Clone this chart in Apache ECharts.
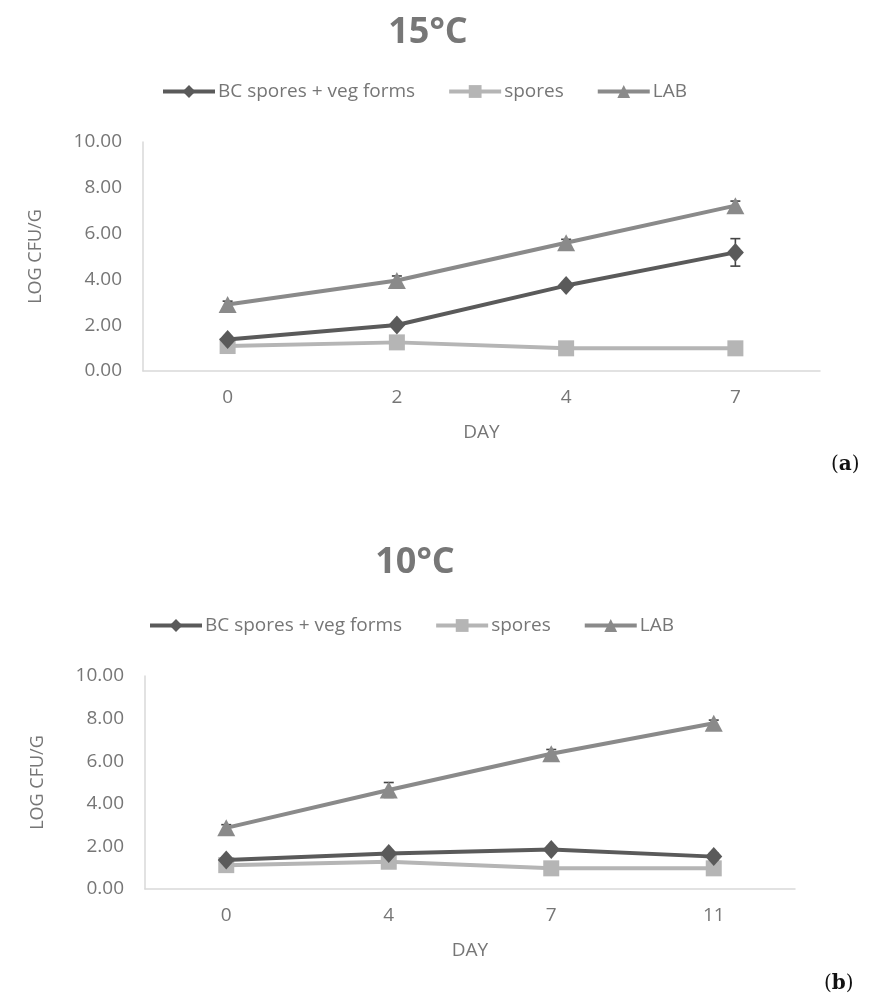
<!DOCTYPE html>
<html>
<head>
<meta charset="utf-8">
<script src="https://cdn.jsdelivr.net/npm/echarts@6/dist/echarts.min.js"></script>
<style>
html,body{margin:0;padding:0;background:#fff;}
#c{width:877px;height:1005px;}
</style>
</head>
<body>
<div id="c"></div>
<script>
// ---- Data (a) 15°C ----
const daysA = ['0', '2', '4', '7'];
const bcA = [1.38, 2.01, 3.73, 5.18];
const sporesA = [1.09, 1.25, 0.99, 0.99];
const labA = [2.90, 3.95, 5.60, 7.22];
const bcErrA = [0.08, 0.08, 0.08, 0.60];
const sporesErrA = [0, 0, 0, 0];
const labErrA = [0.15, 0.20, 0.15, 0.20];

// ---- Data (b) 10°C ----
const daysB = ['0', '4', '7', '11'];
const bcB = [1.36, 1.67, 1.86, 1.52];
const sporesB = [1.12, 1.28, 0.97, 0.97];
const labB = [2.87, 4.65, 6.35, 7.78];
const bcErrB = [0.08, 0.08, 0.08, 0.15];
const sporesErrB = [0, 0, 0, 0];
const labErrB = [0.15, 0.35, 0.20, 0.15];

const yTicks = [0, 2, 4, 6, 8, 10];
const seriesNames = ['BC spores + veg forms', 'spores', 'LAB'];

const FONT = '"Open Sans", sans-serif';
const TXT = '#767676';
const colors = ['#5a5a5a', '#b5b5b5', '#8a8a8a'];
const symbols = ['diamond', 'rect', 'triangle'];
const symSizes = [[17, 19], 16, [18, 17]];

function errRender(params, api) {
  const idx = api.value(0), v = api.value(1), e = api.value(2);
  if (!e) return null;
  const t = api.coord([idx, v + e]);
  const b = api.coord([idx, v - e]);
  const w = 5;
  const st = { stroke: '#444', lineWidth: 1.6 };
  return {
    type: 'group',
    children: [
      { type: 'line', shape: { x1: t[0], y1: t[1], x2: b[0], y2: b[1] }, style: st },
      { type: 'line', shape: { x1: t[0] - w, y1: t[1], x2: t[0] + w, y2: t[1] }, style: st },
      { type: 'line', shape: { x1: b[0] - w, y1: b[1], x2: b[0] + w, y2: b[1] }, style: st }
    ]
  };
}

function lineSeries(i, data, axisIdx) {
  return {
    name: seriesNames[i], type: 'line', data: data,
    xAxisIndex: axisIdx, yAxisIndex: axisIdx,
    symbol: symbols[i], symbolSize: symSizes[i],
    lineStyle: { color: colors[i], width: 4 },
    itemStyle: { color: colors[i] },
    z: 3 + (i === 1 ? 0 : 1), animation: false
  };
}
function errSeries(vals, errs, axisIdx) {
  return {
    type: 'custom', xAxisIndex: axisIdx, yAxisIndex: axisIdx,
    data: vals.map((v, k) => [k, v, errs[k]]),
    renderItem: errRender, z: 2, silent: true, animation: false,
    encode: { x: 0, y: 1 }
  };
}

function xAxisOf(cats, gi) {
  return {
    type: 'category', gridIndex: gi, data: cats, boundaryGap: true,
    axisLine: { show: true, lineStyle: { color: '#d9d9d9', width: 1.5 } },
    axisTick: { show: false },
    axisLabel: { color: TXT, fontSize: 19, fontFamily: FONT, margin: 17 },
    name: 'DAY', nameLocation: 'middle', nameGap: 52,
    nameTextStyle: { color: TXT, fontSize: 19, fontFamily: FONT }
  };
}
function yAxisOf(gi) {
  return {
    type: 'value', gridIndex: gi, min: yTicks[0], max: yTicks[yTicks.length - 1], interval: 2,
    axisLine: { show: true, lineStyle: { color: '#d9d9d9', width: 1.5 } },
    axisTick: { show: false },
    splitLine: { show: false },
    axisLabel: { color: TXT, fontSize: 19, fontFamily: FONT, margin: 21, formatter: v => v.toFixed(2) },
    name: 'LOG CFU/G', nameLocation: 'middle', nameGap: 98, nameRotate: 90,
    nameTextStyle: { color: TXT, fontSize: 18, fontFamily: FONT }
  };
}
function legendOf(left, top) {
  return {
    left: left, top: top, padding: 0, itemGap: 32, itemWidth: 52, itemHeight: 16,
    lineStyle: { width: 4 },
    textStyle: { color: TXT, fontSize: 19, fontFamily: FONT, padding: [0, 0, 0, -2] },
    data: seriesNames
  };
}

const chart = echarts.init(document.getElementById('c'), null, { renderer: 'canvas' });
chart.setOption({
  backgroundColor: '#fff',
  animation: false,
  title: [
    { text: '15°C', left: 423, top: 10, textAlign: 'center',
      textStyle: { color: '#777', fontSize: 36, fontWeight: 'bold', fontFamily: FONT } },
    { text: '10°C', left: 410, top: 540, textAlign: 'center',
      textStyle: { color: '#777', fontSize: 36, fontWeight: 'bold', fontFamily: FONT } }
  ],
  legend: [legendOf(161, 82), legendOf(148, 616)],
  grid: [
    { left: 143, right: 57, top: 142, height: 229 },
    { left: 145, right: 82, top: 676, height: 213 }
  ],
  xAxis: [xAxisOf(daysA, 0), xAxisOf(daysB, 1)],
  yAxis: [yAxisOf(0), yAxisOf(1)],
  graphic: [
    { type: 'text', left: 831, top: 455, style: { text: '{p|(}{b|a}{p|)}', rich: {
      p: { fontFamily: '"DejaVu Serif", serif', fontSize: 20, fill: '#111' },
      b: { fontFamily: '"DejaVu Serif", serif', fontSize: 20, fontWeight: 'bold', fill: '#111' } } } },
    { type: 'text', left: 824, top: 974, style: { text: '{p|(}{b|b}{p|)}', rich: {
      p: { fontFamily: '"DejaVu Serif", serif', fontSize: 20, fill: '#111' },
      b: { fontFamily: '"DejaVu Serif", serif', fontSize: 20, fontWeight: 'bold', fill: '#111' } } } }
  ],
  series: [
    errSeries(bcA, bcErrA, 0), errSeries(sporesA, sporesErrA, 0), errSeries(labA, labErrA, 0),
    lineSeries(0, bcA, 0), lineSeries(1, sporesA, 0), lineSeries(2, labA, 0),
    errSeries(bcB, bcErrB, 1), errSeries(sporesB, sporesErrB, 1), errSeries(labB, labErrB, 1),
    lineSeries(0, bcB, 1), lineSeries(1, sporesB, 1), lineSeries(2, labB, 1)
  ]
});
</script>
</body>
</html>
